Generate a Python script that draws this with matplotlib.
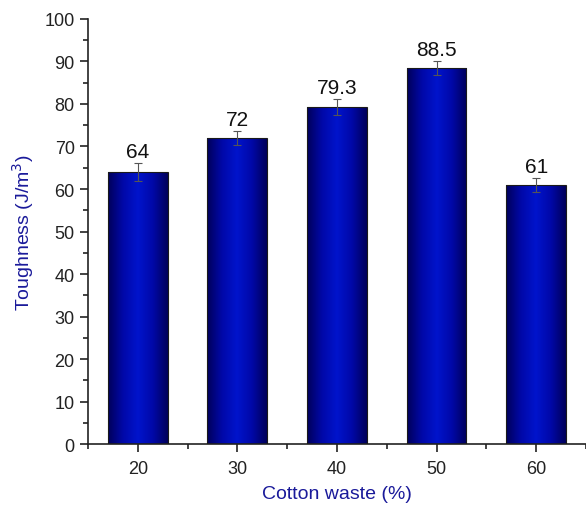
import numpy as np
import matplotlib.pyplot as plt
from matplotlib.colors import LinearSegmentedColormap
from matplotlib.ticker import MultipleLocator

plt.rcParams['font.family'] = ['Liberation Sans', 'DejaVu Sans']

cotton = [20, 30, 40, 50, 60]
tough = [64, 72, 79.3, 88.5, 61]
err = [2.1, 1.7, 1.9, 1.6, 1.6]
labels = ['64', '72', '79.3', '88.5', '61']

fig = plt.figure(figsize=(5.86, 5.10), dpi=100)
ax = fig.add_axes([0.150, 0.127, 0.85, 0.834])

cmap = LinearSegmentedColormap.from_list(
    'bar', ['#00005a', '#0008a8', '#0014cc', '#0008a8', '#00005a'])
grad = np.linspace(0, 1, 256).reshape(1, -1)

bars = ax.bar(cotton, tough, width=6, color='none', edgecolor='#1a1a1a',
              linewidth=0.8, zorder=3)
for b in bars:
    x0, w, h = b.get_x(), b.get_width(), b.get_height()
    im = ax.imshow(grad, cmap=cmap, aspect='auto', extent=(x0, x0 + w, 0, h),
                   zorder=2, interpolation='bicubic')
    im.set_clip_path(b)

ax.errorbar(cotton, tough, yerr=err, fmt='none', ecolor='#555555',
            elinewidth=0.8, capsize=3, capthick=0.8, zorder=4)

for x, y, e, s in zip(cotton, tough, err, labels):
    ax.text(x, y + e + 0.5, s, ha='center', va='bottom', fontsize=15,
            color='#111111', zorder=5)

ax.set_xlim(15, 65)
ax.set_ylim(0, 100)
ax.set_xticks(cotton)
ax.xaxis.set_minor_locator(MultipleLocator(5))
ax.yaxis.set_major_locator(MultipleLocator(10))
ax.yaxis.set_minor_locator(MultipleLocator(5))

ax.spines['top'].set_visible(False)
ax.spines['right'].set_visible(False)
for sp in ('left', 'bottom'):
    ax.spines[sp].set_linewidth(1.2)
    ax.spines[sp].set_color('#222222')

ax.tick_params(axis='both', which='major', direction='out', length=6,
               width=1.2, labelsize=13, colors='#222222')
ax.tick_params(axis='both', which='minor', direction='out', length=3.5,
               width=1.2, colors='#222222')
ax.tick_params(axis='x', pad=5)

ax.set_xlabel('Cotton waste (%)', fontsize=14, color='#1a1a9a', labelpad=6)
ax.set_ylabel('Toughness (J/m$^3$)', fontsize=14, color='#1a1a9a', labelpad=6)

fig.savefig('out.png', dpi=100)
